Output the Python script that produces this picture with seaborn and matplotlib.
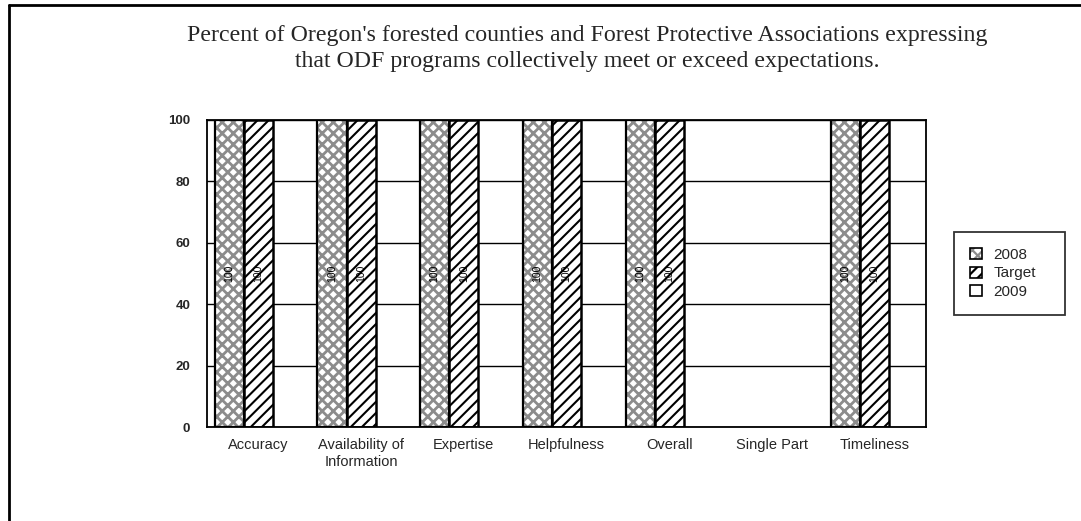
import numpy as np
import pandas as pd
import matplotlib
matplotlib.use("Agg")
import matplotlib.pyplot as plt
import seaborn as sns
from matplotlib.patches import Rectangle
from matplotlib.lines import Line2D
from matplotlib.legend_handler import HandlerTuple

# ---- data ----
categories = ["Accuracy", "Availability of\nInformation", "Expertise", "Helpfulness",
              "Overall", "Single Part", "Timeliness"]
series = ["2008", "Target", "2009"]
values_2008 = [100, 100, 100, 100, 100, np.nan, 100]
values_target = [100, 100, 100, 100, 100, np.nan, 100]
values_2009 = [np.nan, np.nan, np.nan, np.nan, np.nan, np.nan, np.nan]
yticks = [0, 20, 40, 60, 80, 100]
title_line1 = "Percent of Oregon's forested counties and Forest Protective Associations expressing"
title_line2 = "that ODF programs collectively meet or exceed expectations."

df = pd.DataFrame({
    "category": categories * 3,
    "series": ["2008"] * 7 + ["Target"] * 7 + ["2009"] * 7,
    "value": values_2008 + values_target + values_2009,
})

sns.set_style("white")
plt.rcParams["font.family"] = ["Liberation Sans", "DejaVu Sans"]
plt.rcParams["hatch.linewidth"] = 1.6

GRAY = "#8c8c8c"

fig = plt.figure(figsize=(10.81, 5.21), dpi=100)
ax = fig.add_axes([207 / 1081, 1 - 427 / 521, (926 - 207) / 1081, (427 - 120) / 521])

sns.barplot(data=df, x="category", y="value", hue="series", order=categories,
            hue_order=series, width=0.85, errorbar=None, legend=False,
            palette={"2008": "white", "Target": "white", "2009": "white"},
            saturation=1, edgecolor="black", linewidth=1.5, ax=ax, zorder=2)

present = [s for s in series if df.loc[df.series == s, "value"].notna().any()]
for container, name in zip(ax.containers, present):
    for p in container.patches:
        h = p.get_height()
        if not np.isfinite(h) or h <= 0:
            continue
        if name == "2008":
            p.set_facecolor("white")
            p.set_hatch("xxx")
            p.set_edgecolor(GRAY)
            p.set_linewidth(0)
            if hasattr(p, "set_hatch_linewidth"):
                p.set_hatch_linewidth(2.0)
            ax.add_patch(Rectangle((p.get_x(), p.get_y()), p.get_width(), h,
                                   fill=False, edgecolor="black", linewidth=1.6,
                                   zorder=3))
        elif name == "Target":
            p.set_facecolor("white")
            p.set_hatch("///")
            p.set_edgecolor("black")
            p.set_linewidth(1.8)
            if hasattr(p, "set_hatch_linewidth"):
                p.set_hatch_linewidth(1.5)
        ax.text(p.get_x() + p.get_width() / 2, h / 2, f"{h:.0f}", rotation=90,
                ha="center", va="center", fontsize=7.5, color="black", zorder=4)

ax.set_ylim(0, 100)
ax.set_xlim(-0.5, len(categories) - 0.5)
ax.set_yticks(yticks)
ax.set_yticklabels([str(t) for t in yticks], fontsize=9.5, fontweight="bold")
ax.yaxis.grid(True, color="black", linewidth=1.0)
ax.xaxis.grid(False)
ax.set_axisbelow(True)
ax.tick_params(axis="y", length=0, left=False, pad=12)
ax.tick_params(axis="x", length=0, bottom=False, pad=8, labelsize=10.5)
for lab in ax.get_xticklabels():
    lab.set_linespacing(1.25)
ax.set_xlabel("")
ax.set_ylabel("")
for s in ax.spines.values():
    s.set_visible(True)
    s.set_color("black")
    s.set_linewidth(1.3)

# legend
h2008 = (Rectangle((0, 0), 1, 1, facecolor="white", hatch="xxx", edgecolor=GRAY, linewidth=0),
         Rectangle((0, 0), 1, 1, fill=False, edgecolor="black", linewidth=1.2))
htarget = Rectangle((0, 0), 1, 1, facecolor="white", hatch="///", edgecolor="black", linewidth=1.2)
h2009 = Rectangle((0, 0), 1, 1, facecolor="white", edgecolor="black", linewidth=1.2)
leg = fig.legend([h2008, htarget, h2009], series,
                 handler_map={tuple: HandlerTuple(ndivide=1)},
                 loc="center", mode="expand",
                 bbox_to_anchor=(954 / 1081, 1 - 317 / 521, 111 / 1081, 87 / 521),
                 fontsize=11, frameon=True, fancybox=False, shadow=False,
                 borderpad=1.05, labelspacing=0.3, handlelength=0.75,
                 handleheight=0.75, handletextpad=0.8, borderaxespad=0)
leg.get_frame().set_edgecolor("black")
leg.get_frame().set_linewidth(1.3)

# title
fig.text(0.543, 1 - 35 / 521, title_line1, ha="center", va="center",
         fontsize=17.2, family=["Liberation Serif", "DejaVu Serif"])
fig.text(0.543, 1 - 62 / 521, title_line2, ha="center", va="center",
         fontsize=17.2, family=["Liberation Serif", "DejaVu Serif"])

# outer border (left and top only)
fig.add_artist(Line2D([9 / 1081, 9 / 1081], [0, 1 - 5 / 521], transform=fig.transFigure,
                      color="black", linewidth=2))
fig.add_artist(Line2D([9 / 1081, 1], [1 - 5 / 521, 1 - 5 / 521], transform=fig.transFigure,
                      color="black", linewidth=2))

fig.savefig("out.png", dpi=100, facecolor="white")
